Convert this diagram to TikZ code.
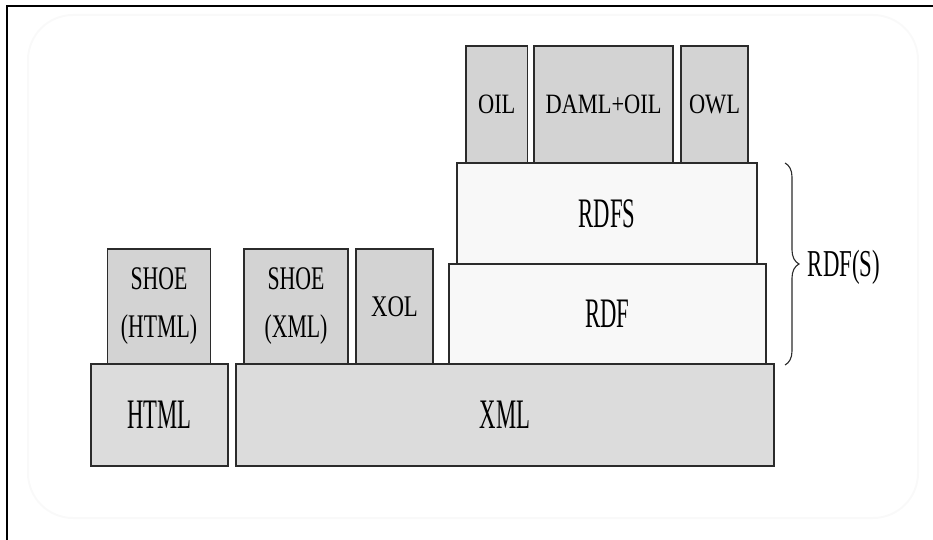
\documentclass[tikz,border=0pt]{standalone}
\usepackage{fontspec}
\setmainfont{Liberation Serif}
\usetikzlibrary{decorations.pathreplacing}

\definecolor{layerline}{HTML}{2B2B2B}
\definecolor{layergray}{HTML}{DCDCDC}
\definecolor{langgray}{HTML}{D3D3D3}
\definecolor{rdfwhite}{HTML}{F8F8F8}

\begin{document}
\begin{tikzpicture}[
  x=1pt,
  y=-1pt,
  line width=1.6pt,
  every node/.style={text=black},
  layerbox/.style={
    draw=layerline,
    inner sep=0pt,
    align=center,
  },
  layerbox base/.style={layerbox, fill=layergray,
    font=\fontsize{42}{44}\selectfont\addfontfeature{FakeStretch=0.54}},
  layerbox rdf/.style={layerbox, fill=rdfwhite,
    font=\fontsize{42}{44}\selectfont\addfontfeature{FakeStretch=0.54}},
  layerbox shoe/.style={layerbox, fill=langgray,
    font=\fontsize{33}{48}\selectfont\addfontfeature{FakeStretch=0.66}},
  layerbox onto/.style={layerbox, fill=langgray,
    font=\fontsize{28}{30}\selectfont\addfontfeature{FakeStretch=0.8}},
  bracelabel/.style={anchor=west, inner sep=0pt,
    font=\fontsize{38}{40}\selectfont\addfontfeature{FakeStretch=0.6}},
]
\useasboundingbox (0,0) rectangle (933,540);
\draw[line width=1.8pt, black] (7,540) -- (7,6) -- (933,6);
\draw[line width=2pt, gray!5, rounded corners=45pt] (28,15) rectangle (918,518);

\node[layerbox base, minimum width=137, minimum height=102] (html) at (159.5,415) {HTML};
\node[layerbox base, minimum width=538, minimum height=102] (xml) at (505,415) {XML};
\node[layerbox shoe, minimum width=103, minimum height=115] (shoehtml) at (159,306.5) {SHOE\\(HTML)};
\node[layerbox shoe, minimum width=104, minimum height=115] (shoexml) at (296,306.5) {SHOE\\(XML)};
\node[layerbox onto, minimum width=77, minimum height=115, font=\fontsize{30}{32}\selectfont\addfontfeature{FakeStretch=0.76}] (xol) at (394.5,306.5) {XOL};
\node[layerbox rdf, minimum width=317, minimum height=100] (rdf) at (607.5,314) {RDF};
\node[layerbox rdf, minimum width=300, minimum height=101] (rdfs) at (607,213.5) {RDFS};
\node[layerbox onto, minimum width=61.5, minimum height=117, text depth=-8pt] (oil) at (496.75,104.5) {OIL};
\node[layerbox onto, minimum width=139, minimum height=117, text depth=-8pt] (damloil) at (603.5,104.5) {DAML+OIL};
\node[layerbox onto, minimum width=67, minimum height=117, text depth=-8pt] (owl) at (714.5,104.5) {OWL};

\coordinate (bracetop) at (785,163);
\coordinate (bracebot) at (785,365);
\draw[line width=1.1pt, layerline, decorate, decoration={brace, amplitude=14pt}]
  (bracetop) -- (bracebot);
\node[bracelabel] (rdfslabel) at (807,267) {RDF(S)};
\end{tikzpicture}
\end{document}
